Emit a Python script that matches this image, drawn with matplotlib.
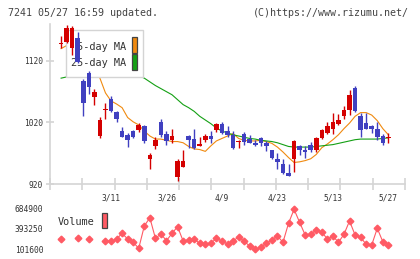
import numpy as np
import matplotlib
matplotlib.use("Agg")
import matplotlib.pyplot as plt
from matplotlib.patches import Rectangle

plt.rcParams['font.family'] = ['DejaVu Sans Mono']

# daily candles (oldest -> newest)
opens = [1147, 1151, 1141, 1158, 1087, 1101, 1062, 998, 1040, 1058,
         1037, 1006, 999, 1006, 1008, 1014, 961, 982, 1021, 1001,
         991, 932, 948, 998, 993, 982, 991, 998, 1008, 1018,
         1006, 1000, 988, 1001, 993, 986, 994, 986, 975, 961,
         952, 938, 960, 982, 975, 983, 975, 994, 1003, 1009,
         1018, 1031, 1040, 1076, 1031, 1019, 1015, 1009, 998, 995]
highs = [1161, 1179, 1176, 1167, 1091, 1104, 1075, 1029, 1051, 1063,
         1039, 1013, 1003, 1008, 1019, 1016, 970, 996, 1025, 1006,
         1009, 961, 975, 999, 1009, 997, 1002, 1006, 1019, 1021,
         1014, 1006, 992, 1004, 1000, 991, 997, 990, 976, 970,
         961, 952, 991, 984, 982, 989, 997, 1009, 1020, 1035,
         1034, 1047, 1073, 1080, 1035, 1035, 1016, 1020, 1001, 1003]
lows = [1141, 1149, 1129, 1117, 1030, 1067, 1048, 995, 1026, 1037,
        1020, 996, 980, 995, 1005, 986, 944, 977, 997, 983,
        987, 925, 948, 978, 977, 981, 989, 986, 1004, 1002,
        996, 977, 979, 983, 986, 982, 982, 974, 961, 944,
        936, 933, 940, 967, 963, 972, 972, 993, 1002, 1002,
        1016, 1025, 1032, 1037, 997, 1009, 1003, 991, 983, 986]
closes = [1149, 1173, 1173, 1118, 1052, 1077, 1070, 1024, 1042, 1039,
          1025, 997, 991, 996, 1016, 990, 967, 991, 1000, 990,
          998, 958, 958, 991, 978, 985, 998, 993, 1018, 1003,
          1000, 979, 990, 988, 987, 983, 986, 981, 962, 956,
          938, 933, 990, 975, 972, 975, 994, 1008, 1014, 1020,
          1024, 1041, 1065, 1038, 1008, 1010, 1010, 997, 986, 997]

ma5 = [1140, 1145, 1152, 1150, 1138, 1122, 1105, 1092, 1068, 1055,
       1050, 1044, 1028, 1021, 1016, 1006, 998, 993, 993, 991,
       989, 989, 987, 981, 977, 976, 973, 982, 990, 994,
       998, 1002, 994, 991, 990, 990, 991, 989, 986, 980,
       972, 963, 955, 956, 958, 961, 968, 979, 985, 992,
       1000, 1010, 1019, 1030, 1036, 1036, 1032, 1023, 1010, 1000]
ma25 = [1092, 1094, 1097, 1100, 1102, 1103, 1104, 1104, 1104, 1103,
        1102, 1101, 1100, 1098, 1096, 1092, 1086, 1080, 1075, 1070,
        1065, 1057, 1049, 1044, 1038, 1030, 1024, 1018, 1011, 1006,
        1003, 1000, 998, 996, 994, 993, 991, 990, 989, 987,
        984, 981, 980, 980, 980, 980, 981, 982, 983, 984,
        986, 988, 990, 992, 993, 993, 993, 993, 994, 995]

# volumes above the panel range are not drawn (None)
volume = [247000, None, None, 266000, None, 247000, None, None, 214000, 214000,
          247000, 330000, 247000, 199000, 112000, 437000, 558000, 258000, 320000, 223000,
          330000, 427000, 218000, 233000, 243000, 185000, 175000, 185000, 258000, 218000,
          175000, 214000, 281000, 214000, 145000, 97000, 126000, 185000, 233000, 291000,
          199000, 476000, 680000, 491000, 306000, 316000, 379000, 354000, 243000, 291000,
          199000, 316000, 510000, 306000, 272000, 170000, 160000, 403000, 208000, 160000]

date_idx = [9, 19, 29, 39, 49, 59]
date_labels = ["3/11", "3/26", "4/9", "4/23", "5/13", "5/27"]
price_ticks = [920, 1020, 1120]
vol_ticks = [101600, 393250, 684900]

W, H = 420, 259
fig = plt.figure(figsize=(W / 100, H / 100), dpi=100)

def fx(px):
    return px / W

def fy(py):
    return 1 - py / H

RED = "#d40000"
BLUE = "#4040c0"
ORANGE = "#f08a10"
GREEN = "#14a014"
PINK = "#ff5a64"
AXC = "#d4d4d4"
TXT = "#333333"

ax = fig.add_axes([fx(50), fy(184), fx(405) - fx(50), fy(24) - fy(184)])
x = np.arange(len(closes))

ax.plot(x, ma5, color=ORANGE, lw=0.8, zorder=2)
ax.plot(x, ma25, color=GREEN, lw=0.8, zorder=2)

o = np.array(opens, float)
c = np.array(closes, float)
colors = [RED if cc >= oo else BLUE for oo, cc in zip(o, c)]
bottom = np.minimum(o, c)
height = np.maximum(np.abs(c - o), 1.8)
ax.vlines(x, lows, highs, colors=colors, lw=1.0, zorder=4)
ax.bar(x, height, bottom=bottom, width=0.82, color=colors, zorder=4)

ax.set_xlim(-2, 62)
ax.set_ylim(920, 1180)
for s in ["top", "right"]:
    ax.spines[s].set_visible(False)
for s in ["left", "bottom"]:
    ax.spines[s].set_color(AXC)
    ax.spines[s].set_linewidth(1.2)
ax.set_yticks(price_ticks)
ax.set_yticklabels([str(v) for v in price_ticks])
ax.set_xticks(date_idx)
ax.set_xticklabels(date_labels)
ax.set_xticks(np.linspace(-2, 62, 12), minor=True)
ax.tick_params(axis="y", direction="inout", length=6, width=1.2, color=AXC,
               labelsize=5.7, labelcolor=TXT, pad=2)
ax.tick_params(axis="x", which="major", length=0, labelsize=5.7,
               labelcolor=TXT, pad=6.5)
ax.tick_params(axis="x", which="minor", direction="inout", length=8.5,
               width=1.2, color=AXC)

# legend for moving averages (under candles, over lines)
ax.add_patch(Rectangle((fx(65.7), fy(77.3)), fx(143.3) - fx(65.7), fy(30) - fy(77.3),
                       transform=fig.transFigure, facecolor="white",
                       edgecolor=AXC, lw=1.0, zorder=3, clip_on=False))
ax.text(fx(126), fy(46.7), " 5-day MA", transform=fig.transFigure, ha="right",
        va="center", fontsize=7.4, color=TXT, zorder=3)
ax.text(fx(126), fy(63.3), "25-day MA", transform=fig.transFigure, ha="right",
        va="center", fontsize=7.4, color=TXT, zorder=3)
for col, top in [(ORANGE, 37), (GREEN, 54)]:
    ax.add_patch(Rectangle((fx(131.7), fy(top + 15.5)), fx(5.6), fy(0) - fy(15.5),
                           transform=fig.transFigure, facecolor=col,
                           edgecolor="#444444", lw=0.9, zorder=3, clip_on=False))

# volume panel
vax = fig.add_axes([fx(50), fy(253), fx(405) - fx(50), fy(205) - fy(253)])
vol = np.array([np.nan if v is None else v for v in volume], float)
vax.plot(x, vol, color=PINK, lw=0.8, marker="D", ms=3.4, mec=PINK, mfc=PINK)
vax.set_xlim(-2, 62)
vax.set_ylim(101600 - 4 * 14582, 684900 + 4 * 14582)
for s in vax.spines.values():
    s.set_visible(False)
vax.set_xticks([])
vax.set_yticks(vol_ticks)
vax.set_yticklabels([str(v) for v in vol_ticks])
vax.tick_params(axis="y", length=0, labelsize=5.7, labelcolor=TXT, pad=5)

fig.text(fx(58), fy(222), "Volume", ha="left", va="center", fontsize=7.4, color=TXT)
fig.add_artist(Rectangle((fx(101.7), fy(228.3)), fx(5.6), fy(0) - fy(15.6),
                         transform=fig.transFigure, facecolor=PINK,
                         edgecolor="#444444", lw=0.9))

fig.text(fx(8), fy(12.7), "7241 05/27 16:59 updated.", ha="left", va="center",
         fontsize=7.2, color="#444444")
fig.text(fx(409), fy(12.7), "(C)https://www.rizumu.net/", ha="right", va="center",
         fontsize=7.2, color="#444444")

fig.savefig("out.png", dpi=100)
